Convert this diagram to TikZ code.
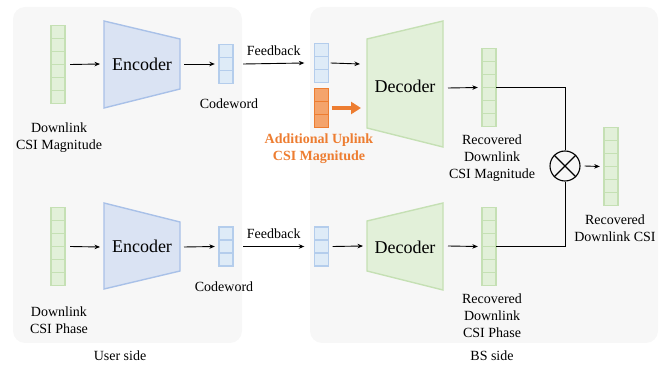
\documentclass[tikz,border=0pt]{standalone}
\usepackage{fontspec}
\setmainfont{Liberation Serif}
\usepackage{tikz}
\usetikzlibrary{arrows.meta, positioning, calc}
\definecolor{panelgray}{HTML}{F7F7F7}
\definecolor{encfill}{HTML}{DAE3F3}
\definecolor{encline}{HTML}{A9C1E8}
\definecolor{bluefill}{HTML}{DEEBF7}
\definecolor{blueline}{HTML}{B4CDEC}
\definecolor{greenfill}{HTML}{E2F0D9}
\definecolor{greenline}{HTML}{C5E0B4}
\definecolor{orangefill}{HTML}{F4A46C}
\definecolor{orangeline}{HTML}{ED7D31}

% one column vector made of square cells
\newcommand{\cellvec}[4]{%
  \node[inner sep=0pt, minimum width=14pt, minimum height={#3*13pt}] (#1) at (#2) {};
  \foreach \k in {1,...,#3}
    \draw[#4] ($(#1.north west)+(0,{(\k-1)*13})$) rectangle ++(14,13);
}

\tikzset{
  panel/.style={fill=panelgray, rounded corners=12pt},
  enc/.style={draw=encline, fill=encfill, line width=1.4pt},
  dec/.style={draw=greenline, fill=greenfill, line width=1.4pt},
  bluecell/.style={draw=blueline, fill=bluefill, line width=1.5pt},
  greencell/.style={draw=greenline, fill=greenfill, line width=1.5pt},
  orangecell/.style={draw=orangeline, fill=orangefill, line width=1.5pt},
  arr/.style={-{Stealth[length=5.5pt,width=4.5pt]}, line width=0.9pt},
  bigtxt/.style={font=\fontsize{18}{21}\selectfont},
  lbl/.style={font=\fontsize{14}{16.8}\selectfont, align=center, inner sep=0pt, anchor=north},
}

\begin{document}
\begin{tikzpicture}[x=1pt, y=-1pt]
  \useasboundingbox (0,0) rectangle (665,366);

  % panels
  \fill[panel] (13,7) rectangle (242,343);
  \fill[panel] (310,7) rectangle (658,343);
  \node[lbl] (user) at (120,351) {User side};
  \node[lbl] (bs) at (492,351) {BS side};

  % magnitude branch
  \cellvec{vm}{58,64.5}{6}{greencell}
  \draw[enc] (104,21) -- (180,39) -- (180,89) -- (104,108) -- cycle;
  \node[bigtxt] (enc1) at (142,64) {Encoder};
  \coordinate (enc1w) at (104,64);
  \coordinate (enc1e) at (180,64);
  \cellvec{cm}{226,64}{3}{bluecell}
  \cellvec{rm}{321.5,63}{3}{bluecell}
  \cellvec{om}{321.5,108}{3}{orangecell}
  \draw[dec] (367,39) -- (443,21) -- (443,147) -- (367,128) -- cycle;
  \node[bigtxt] (dec1) at (405,86) {Decoder};
  \coordinate (dec1w) at (367,64);
  \coordinate (dec1o) at (367,108);
  \coordinate (dec1e) at (443,88);
  \cellvec{gm}{489,87.5}{6}{greencell}

  \draw[arr] ([xshift=5pt]vm.east) -- ([xshift=-4pt]enc1w);
  \draw[arr] ([xshift=4pt]enc1e) -- ([xshift=-4pt]cm.west);
  \draw[arr] ([xshift=10pt]cm.east) -- node[above=4pt, font=\fontsize{14}{16.8}\selectfont] (fb1) {Feedback} ([xshift=-10pt]rm.west);
  \draw[arr] ([xshift=2pt]rm.east) -- ([xshift=-7pt]dec1w);
  \draw[orangeline, line width=4pt, -{Triangle[length=10pt,width=12pt]}] ([xshift=3pt]om.east) -- ([xshift=-6pt]dec1o);
  \draw[arr] ([xshift=5pt]dec1e) -- ([xshift=-4pt]gm.west);

  \node[lbl] (lvm) at (59,122.5) {Downlink\\CSI Magnitude};
  \node[lbl] (lcm) at (229,98.5) {Codeword};
  \node[lbl, text=orangeline, font=\bfseries\fontsize{14}{16.8}\selectfont] (lom) at (319,134) {Additional Uplink\\CSI Magnitude};
  \node[lbl] (lgm) at (492,135) {Recovered\\Downlink\\CSI Magnitude};

  % phase branch
  \cellvec{vp}{58,246.5}{6}{greencell}
  \draw[enc] (104,203) -- (180,222) -- (180,271) -- (104,289) -- cycle;
  \node[bigtxt] (enc2) at (142,246) {Encoder};
  \coordinate (enc2w) at (104,247);
  \coordinate (enc2e) at (180,247);
  \cellvec{cp}{226,246.5}{3}{bluecell}
  \cellvec{rp}{321.5,246.5}{3}{bluecell}
  \draw[dec] (367,221) -- (443,203) -- (443,290) -- (367,271) -- cycle;
  \node[bigtxt] (dec2) at (405,247) {Decoder};
  \coordinate (dec2w) at (367,246);
  \coordinate (dec2e) at (443,246);
  \cellvec{gp}{489,246.5}{6}{greencell}

  \draw[arr] ([xshift=5pt]vp.east) -- ([xshift=-4pt]enc2w);
  \draw[arr] ([xshift=4pt]enc2e) -- ([xshift=-4pt]cp.west);
  \draw[arr] ([xshift=10pt]cp.east) -- node[above=4pt, font=\fontsize{14}{16.8}\selectfont] (fb2) {Feedback} ([xshift=-10pt]rp.west);
  \draw[arr] ([xshift=4pt]rp.east) -- ([xshift=-4pt]dec2w);
  \draw[arr] ([xshift=5pt]dec2e) -- ([xshift=-4pt]gp.west);

  \node[lbl] (lvp) at (59,306.5) {Downlink\\CSI Phase};
  \node[lbl] (lcp) at (224,281.5) {Codeword};
  \node[lbl] (lgp) at (492,293.5) {Recovered\\Downlink\\CSI Phase};

  % combination
  \node[draw, circle, line width=1.1pt, minimum size=30pt, inner sep=0pt] (mult) at (565,166) {};
  \draw[line width=1.1pt] (mult.45) -- (mult.225) (mult.135) -- (mult.315);
  \draw[line width=0.9pt] (gm.east) -| (mult.north);
  \draw[line width=0.9pt] (gp.east) -| (mult.south);
  \cellvec{fin}{611,166.5}{6}{greencell}
  \draw[arr] ([xshift=4pt]mult.east) -- ([xshift=-4pt]fin.west);
  \node[lbl] (lfin) at (615,215) {Recovered\\Downlink CSI};
\end{tikzpicture}
\end{document}
